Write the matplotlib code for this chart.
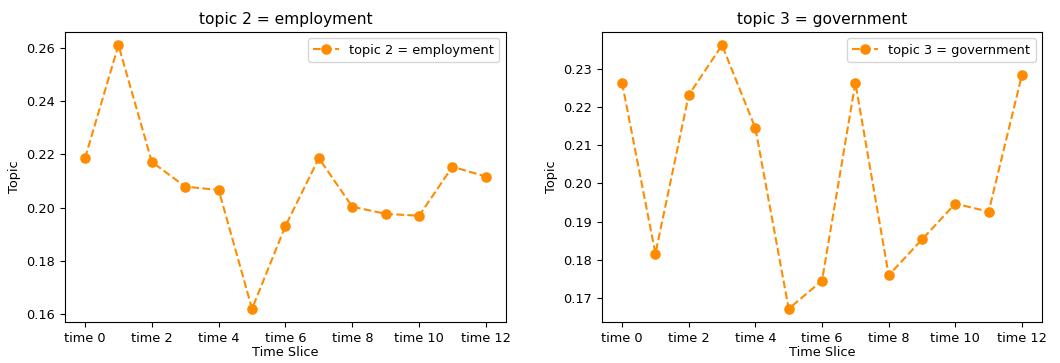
import matplotlib
matplotlib.use("Agg")
import matplotlib.pyplot as plt

# time slices and topic weights
time_labels = ["time %d" % i for i in range(13)]
tick_labels = ["time %d" % i for i in range(0, 13, 2)]
employment = [0.2186, 0.2610, 0.2172, 0.2079, 0.2067, 0.1621, 0.1932,
              0.2186, 0.2004, 0.1977, 0.1970, 0.2154, 0.2117]
government = [0.2264, 0.1816, 0.2232, 0.2363, 0.2145, 0.1671, 0.1745,
              0.2264, 0.1759, 0.1853, 0.1947, 0.1926, 0.2285]

series = [("topic 2 = employment", employment),
          ("topic 3 = government", government)]

fs = 9.3
fig = plt.figure(figsize=(10.6, 3.63), dpi=100)
positions = [[0.0613, 0.113, 0.416, 0.799],
             [0.568, 0.113, 0.415, 0.799]]

for pos, (name, vals) in zip(positions, series):
    ax = fig.add_axes(pos)
    x = list(range(len(vals)))
    ax.plot(x, vals, linestyle="--", marker="o", color="darkorange",
            markersize=6.6, linewidth=1.5, label=name)
    ax.set_xticks(range(0, 13, 2))
    ax.set_xticklabels(tick_labels, fontsize=fs)
    ax.tick_params(axis="y", labelsize=fs)
    ax.set_xlabel("Time Slice", fontsize=fs, labelpad=1)
    ax.set_ylabel("Topic", fontsize=fs)
    ax.set_title(name, fontsize=11.2)
    ax.legend(loc="upper right", fontsize=fs)

fig.savefig("out.png", dpi=100)
